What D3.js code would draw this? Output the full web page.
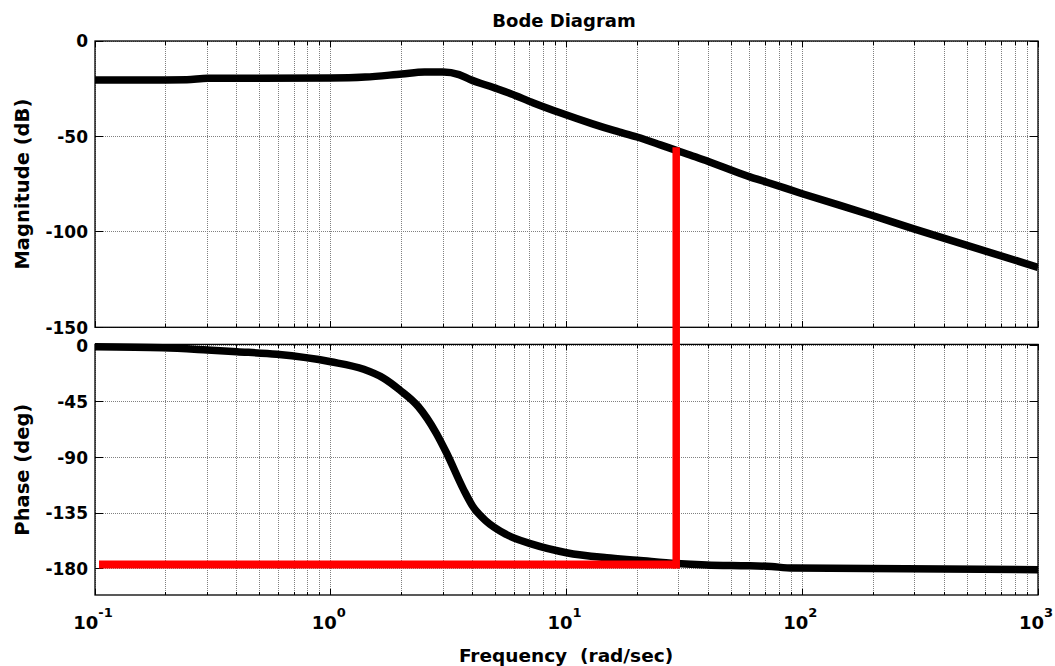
<!DOCTYPE html>
<html>
<head>
<meta charset="utf-8">
<script src="https://cdn.jsdelivr.net/npm/d3@7"></script>
<style>
  html, body { margin: 0; padding: 0; background: #fff; }
  svg { display: block; }
  text { font-family: "DejaVu Sans", "Liberation Sans", Arial, sans-serif; font-weight: bold; fill: #000; }
</style>
</head>
<body>
<script>
// ---- data ----
const magFreq = [0.1, 0.2, 0.245, 0.3, 0.5, 1.0, 1.4, 2.0, 2.5, 3.0, 3.5, 3.9, 4.9, 5.8, 7.2, 9.4, 12.9, 16, 19.9, 25, 29.2, 33.4, 39.5, 60, 70.8, 100, 197, 295, 1000];
const magDb   = [-20.4, -20.4, -20.3, -19.5, -19.5, -19.4, -18.9, -17.3, -16.3, -16.2, -17.6, -20.2, -24.4, -27.6, -32.3, -37.6, -43.4, -47.0, -50.3, -54.4, -57.3, -59.7, -62.9, -71.2, -74.0, -80.0, -91.3, -98.3, -118.6];

const phaseFreq = [0.1, 0.194, 0.3, 0.4, 0.59, 1.0, 1.38, 1.67, 1.96, 2.35, 2.8, 3.1, 3.66, 4.0, 4.57, 5.56, 7.2, 10, 14.8, 20, 29.2, 39.3, 55, 70.6, 91.4, 1000];
const phaseDeg  = [-0.8, -1.6, -3.4, -4.8, -6.9, -12.9, -19.0, -26.0, -35.6, -49.0, -70.4, -86.5, -116.0, -129.4, -141.5, -152.2, -160.2, -166.9, -171.0, -173.0, -175.6, -176.8, -177.4, -177.8, -179.3, -180.6];

const magTicks = [0, -50, -100, -150];
const phaseTicks = [0, -45, -90, -135, -180];
const decadeTicks = [0.1, 1, 10, 100, 1000];
const decadeExp = ["-1", "0", "1", "2", "3"];

// red marker lines
const markerFreq = 29.2;
const markerStartFreq = 0.104;
const markerPhase = -176.5;
const markerMag = -55.7;

const titleText = "Bode Diagram";
const xLabel = "Frequency  (rad/sec)";
const magLabel = "Magnitude (dB)";
const phaseLabel = "Phase (deg)";

// ---- layout ----
const W = 1055, H = 666;
const L = 95, R = 1038;
const magTop = 41, magBot = 327.3;
const phTop = 344.4, phBot = 595;

const svg = d3.select("body").append("svg").attr("width", W).attr("height", H);

const x = d3.scaleLog().domain([0.1, 1000]).range([L, R]);
const yMag = d3.scaleLinear().domain([-150, 0]).range([magBot, magTop]);
const yPh = d3.scaleLinear().domain([-201, 1.1]).range([phBot, phTop]);

const minorTicks = [];
[-1, 0, 1, 2].forEach(d => { for (let m = 2; m <= 9; m++) minorTicks.push(m * Math.pow(10, d)); });

function panel(y, ticks, top, bot, id) {
  const g = svg.append("g");
  const gridX = decadeTicks.concat(minorTicks);
  g.selectAll(null).data(gridX).enter().append("line")
    .attr("x1", d => x(d)).attr("x2", d => x(d))
    .attr("y1", top).attr("y2", bot)
    .attr("stroke", "#808080").attr("stroke-width", 1).attr("stroke-dasharray", "1,1")
    .attr("shape-rendering", "crispEdges");
  g.selectAll(null).data(ticks).enter().append("line")
    .attr("x1", L).attr("x2", R)
    .attr("y1", d => y(d)).attr("y2", d => y(d))
    .attr("stroke", "#808080").attr("stroke-width", 1).attr("stroke-dasharray", "1,1")
    .attr("shape-rendering", "crispEdges");
  const tx = decadeTicks.map(d => ({v: d, len: 6})).concat(minorTicks.map(d => ({v: d, len: 3.5})));
  [top, bot].forEach((yy, i) => {
    g.selectAll(null).data(tx).enter().append("line")
      .attr("x1", d => x(d.v)).attr("x2", d => x(d.v))
      .attr("y1", yy).attr("y2", d => i === 0 ? yy + d.len : yy - d.len)
      .attr("stroke", "#000").attr("stroke-width", 1).attr("shape-rendering", "crispEdges");
  });
  [L, R].forEach((xx, i) => {
    g.selectAll(null).data(ticks).enter().append("line")
      .attr("x1", xx).attr("x2", i === 0 ? xx + 8 : xx - 8)
      .attr("y1", d => y(d)).attr("y2", d => y(d))
      .attr("stroke", "#000").attr("stroke-width", 1).attr("shape-rendering", "crispEdges");
  });
  g.append("rect").attr("x", L).attr("y", top).attr("width", R - L).attr("height", bot - top)
    .attr("fill", "none").attr("stroke", "#000").attr("stroke-width", 1.3);
  g.selectAll(null).data(ticks).enter().append("text")
    .attr("x", L - 7).attr("y", d => y(d)).attr("dy", "0.37em")
    .attr("text-anchor", "end").attr("font-size", 17)
    .text(d => d);
  svg.append("clipPath").attr("id", id).append("rect")
    .attr("x", L).attr("y", top - 4).attr("width", R - L).attr("height", bot - top + 4);
}

panel(yMag, magTicks, magTop, magBot, "clipMag");
panel(yPh, phaseTicks, phTop, phBot, "clipPh");

const magLine = d3.line().x(d => x(d[0])).y(d => yMag(d[1])).curve(d3.curveMonotoneX);
svg.append("path").datum(magFreq.map((f, i) => [f, magDb[i]]))
  .attr("d", magLine).attr("fill", "none").attr("stroke", "#000")
  .attr("stroke-width", 7.5).attr("stroke-linejoin", "round")
  .attr("clip-path", "url(#clipMag)");

const phLine = d3.line().x(d => x(d[0])).y(d => yPh(d[1])).curve(d3.curveMonotoneX);
svg.append("path").datum(phaseFreq.map((f, i) => [f, phaseDeg[i]]))
  .attr("d", phLine).attr("fill", "none").attr("stroke", "#000")
  .attr("stroke-width", 7.5).attr("stroke-linejoin", "round")
  .attr("clip-path", "url(#clipPh)");

const red = "#ff0000";
svg.append("line")
  .attr("x1", x(markerStartFreq)).attr("x2", x(markerFreq))
  .attr("y1", yPh(markerPhase)).attr("y2", yPh(markerPhase))
  .attr("stroke", red).attr("stroke-width", 8);
svg.append("line")
  .attr("x1", x(markerFreq)).attr("x2", x(markerFreq))
  .attr("y1", yMag(markerMag)).attr("y2", yPh(markerPhase) + 4)
  .attr("stroke", red).attr("stroke-width", 7.5);

decadeTicks.forEach((d, i) => {
  const t = svg.append("text").attr("x", x(d) - 2).attr("y", 629)
    .attr("text-anchor", "middle").attr("font-size", 18);
  t.append("tspan").text("10");
  t.append("tspan").attr("dy", -12).attr("font-size", 13).text(decadeExp[i]);
});

svg.append("text").attr("x", 564).attr("y", 27).attr("text-anchor", "middle")
  .attr("font-size", 18).text(titleText);
svg.append("text").attr("x", 566).attr("y", 662).attr("text-anchor", "middle")
  .attr("font-size", 18.5).attr("xml:space", "preserve").style("white-space", "pre").text(xLabel);
svg.append("text").attr("transform", `translate(29,${(magTop + magBot) / 2}) rotate(-90)`)
  .attr("text-anchor", "middle").attr("font-size", 19.5).text(magLabel);
svg.append("text").attr("transform", `translate(29,${(phTop + phBot) / 2}) rotate(-90)`)
  .attr("text-anchor", "middle").attr("font-size", 19.5).text(phaseLabel);
</script>
</body>
</html>
